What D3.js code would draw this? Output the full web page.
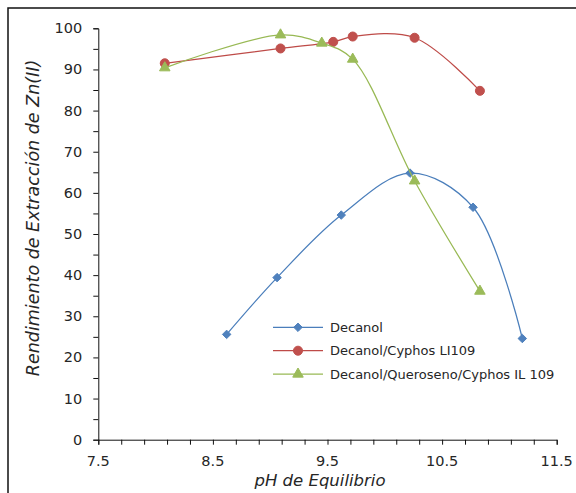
<!DOCTYPE html>
<html>
<head>
<meta charset="utf-8">
<script src="https://cdn.jsdelivr.net/npm/d3@7"></script>
<style>
  body { margin: 0; background: #fff; }
  text { font-family: "DejaVu Sans", sans-serif; fill: #262626; }
</style>
</head>
<body>
<div id="vis"></div>
<script>
const FRAME_WIDTH = 576;
const FRAME_HEIGHT = 493;

// data
const decanolPH = [8.62, 9.06, 9.62, 10.22, 10.77, 11.20];
const decanolY = [25.6, 39.4, 54.6, 64.8, 56.5, 24.6];

const cyphosPH = [8.08, 9.09, 9.55, 9.72, 10.26, 10.83];
const cyphosY = [91.5, 95.1, 96.7, 98.0, 97.7, 84.8];

const queroPH = [8.08, 9.09, 9.45, 9.72, 10.26, 10.83];
const queroY = [90.4, 98.4, 96.4, 92.5, 62.9, 36.1];

const seriesNames = ["Decanol", "Decanol/Cyphos LI109", "Decanol/Queroseno/Cyphos IL 109"];
const xTickLabels = [7.5, 8.5, 9.5, 10.5, 11.5];
const yTickLabels = [0, 10, 20, 30, 40, 50, 60, 70, 80, 90, 100];

// excel-like diamond: a square turned by 45 degrees
const diamond = {
  draw(ctx, size) {
    const r = Math.sqrt(size / 2);
    ctx.moveTo(0, -r);
    ctx.lineTo(r, 0);
    ctx.lineTo(0, r);
    ctx.lineTo(-r, 0);
    ctx.closePath();
  }
};

const SERIES = [
  {name: seriesNames[0], x: decanolPH, y: decanolY, line: "#4A7EBB", fill: "#4F81BD", sym: diamond, size: 36},
  {name: seriesNames[1], x: cyphosPH, y: cyphosY, line: "#BE4B48", fill: "#C0504D", sym: d3.symbolCircle, size: 64},
  {name: seriesNames[2], x: queroPH, y: queroY, line: "#98B954", fill: "#9BBB59", sym: d3.symbolTriangle, size: 48}
];

const svg = d3.select("#vis")
              .append("svg")
              .attr("width", FRAME_WIDTH)
              .attr("height", FRAME_HEIGHT);

// chart border (cropped at right and bottom)
svg.append("rect")
   .attr("x", 8).attr("y", 8)
   .attr("width", 700).attr("height", 700)
   .attr("fill", "none")
   .attr("stroke", "#111")
   .attr("stroke-width", 1.5);

const X_SCALE = d3.scaleLinear().domain([7.5, 11.5]).range([98.3, 556.7]);
const Y_SCALE = d3.scaleLinear().domain([0, 100]).range([439.7, 28.3]);

// x axis: minor ticks every 0.2
const xAxis = svg.append("g")
   .attr("transform", "translate(0," + Y_SCALE(0) + ")")
   .call(d3.axisBottom(X_SCALE)
           .tickValues(d3.range(0, 21).map(i => 7.5 + i * 0.2))
           .tickSize(5)
           .tickFormat(""));
xAxis.selectAll("path, line").attr("stroke", "#111");
svg.append("g").selectAll("text")
   .data(xTickLabels)
   .enter()
   .append("text")
     .attr("x", d => X_SCALE(d))
     .attr("y", Y_SCALE(0) + 26.5)
     .attr("text-anchor", "middle")
     .attr("font-size", "14.5px")
     .text(d => d.toFixed(1));

// y axis: minor ticks every 5
const yAxis = svg.append("g")
   .attr("transform", "translate(" + X_SCALE(7.5) + ",0)")
   .call(d3.axisLeft(Y_SCALE)
           .tickValues(d3.range(0, 101, 5))
           .tickSize(5)
           .tickFormat(""));
yAxis.selectAll("path, line").attr("stroke", "#111");
svg.append("g").selectAll("text")
   .data(yTickLabels)
   .enter()
   .append("text")
     .attr("x", X_SCALE(7.5) - 16)
     .attr("y", d => Y_SCALE(d) + 5)
     .attr("text-anchor", "end")
     .attr("font-size", "14.5px")
     .text(d => d);

// axis titles
svg.append("text")
   .attr("x", 320)
   .attr("y", 486)
   .attr("text-anchor", "middle")
   .attr("font-size", "16.5px")
   .attr("font-style", "italic")
   .text("pH de Equilibrio");

svg.append("text")
   .attr("transform", "translate(39," + 218 + ") rotate(-90)")
   .attr("text-anchor", "middle")
   .attr("font-size", "17.5px")
   .attr("font-style", "italic")
   .text("Rendimiento de Extracción de Zn(II)");

// series
const line = d3.line()
               .x(d => X_SCALE(d[0]))
               .y(d => Y_SCALE(d[1]))
               .curve(d3.curveCatmullRom.alpha(0.5));

SERIES.forEach(s => {
  const pts = s.x.map((v, i) => [v, s.y[i]]);
  svg.append("path")
     .datum(pts)
     .attr("d", line)
     .attr("fill", "none")
     .attr("stroke", s.line)
     .attr("stroke-width", 1.25);
  svg.append("g").selectAll("path")
     .data(pts)
     .enter()
     .append("path")
       .attr("d", d3.symbol().type(s.sym).size(s.size))
       .attr("transform", d => "translate(" + X_SCALE(d[0]) + "," + Y_SCALE(d[1]) + ")")
       .attr("fill", s.fill)
       .attr("stroke", s.fill);
});

// legend
const legend = svg.append("g");
SERIES.forEach((s, i) => {
  const ly = 327.3 + i * 23.4;
  legend.append("line")
        .attr("x1", 273).attr("x2", 323)
        .attr("y1", ly).attr("y2", ly)
        .attr("stroke", s.line)
        .attr("stroke-width", 1.25);
  legend.append("path")
        .attr("d", d3.symbol().type(s.sym).size(s.size))
        .attr("transform", "translate(298," + ly + ")")
        .attr("fill", s.fill)
        .attr("stroke", s.fill);
  legend.append("text")
        .attr("x", 330)
        .attr("y", ly + 4.5)
        .attr("font-size", "13px")
        .text(s.name);
});
</script>
</body>
</html>
